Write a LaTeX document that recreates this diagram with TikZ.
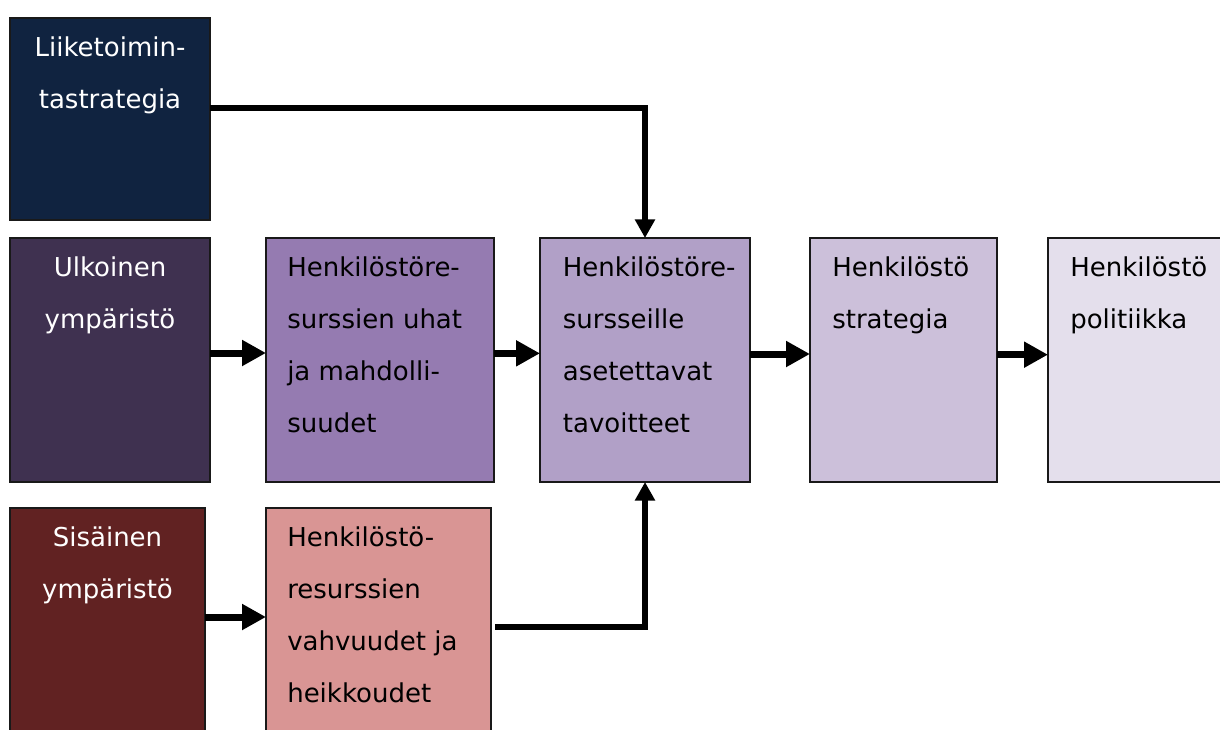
\documentclass[tikz,border=0pt]{standalone}
\usepackage{fontspec}
\setmainfont{DejaVu Sans}
\usetikzlibrary{arrows.meta}
\definecolor{cL}{RGB}{16,35,64}
\definecolor{cU}{RGB}{63,49,80}
\definecolor{cS}{RGB}{97,34,34}
\definecolor{cH}{RGB}{149,123,177}
\definecolor{cV}{RGB}{217,149,148}
\definecolor{cT}{RGB}{177,160,199}
\definecolor{cP}{RGB}{204,192,218}
\definecolor{cQ}{RGB}{228,223,236}
\definecolor{edge}{RGB}{25,25,25}
\newcommand{\firstline}{\rule{0pt}{28.5pt}}
\begin{document}
\begin{tikzpicture}[x=0.75pt,y=-0.75pt,
  box/.style={draw=edge, line width=1.1pt, inner sep=0pt, outer sep=0pt, anchor=north west},
  wtxt/.style={inner sep=0pt, anchor=north, align=center, text=white, font=\fontsize{19.5}{39}\selectfont},
  btxt/.style={inner sep=0pt, anchor=north west, align=left, text=black, font=\fontsize{19.5}{39}\selectfont},
  arr/.style={line width=5.25pt, -{Triangle[length=18pt,width=18.5pt]}},
  elbow/.style={line width=4.5pt, -{Triangle[length=14pt,width=14.5pt]}}]
\useasboundingbox (0,0) rectangle (1220,729);
\begin{scope}
\clip (0,0) rectangle (1220,729);
\node[box, fill=cL, minimum width=150pt, minimum height=151.5pt] (L) at (10,18) {};
\node[box, fill=cU, minimum width=150pt, minimum height=183pt] (U) at (10,238) {};
\node[box, fill=cS, minimum width=146.25pt, minimum height=195pt] (S) at (10,508) {};
\node[box, fill=cH, minimum width=171pt, minimum height=183pt] (H) at (266,238) {};
\node[box, fill=cV, minimum width=168.75pt, minimum height=195pt] (V) at (266,508) {};
\node[box, fill=cT, minimum width=157.5pt, minimum height=183pt] (T) at (540,238) {};
\node[box, fill=cP, minimum width=140.25pt, minimum height=183pt] (P) at (810,238) {};
\node[box, fill=cQ, minimum width=135pt, minimum height=183pt] (Q) at (1048,238) {};
\end{scope}
\node[wtxt] (tL) at (L.north) {\firstline Liiketoimin-\\tastrategia};
\node[wtxt] (tU) at (U.north) {\firstline Ulkoinen\\ympäristö};
\node[wtxt] (tS) at (S.north) {\firstline Sisäinen\\ympäristö};
\node[btxt] (tH) at ([xshift=15.75pt]H.north west) {\firstline Henkilöstöre-\\surssien uhat\\ja mahdolli-\\suudet};
\node[btxt] (tV) at ([xshift=15.75pt]V.north west) {\firstline Henkilöstö-\\resurssien\\vahvuudet ja\\heikkoudet};
\node[btxt] (tT) at ([xshift=17pt]T.north west) {\firstline Henkilöstöre-\\sursseille\\asetettavat\\tavoitteet};
\node[btxt] (tP) at ([xshift=16.5pt]P.north west) {\firstline Henkilöstö\\strategia};
\node[btxt] (tQ) at ([xshift=16.5pt]Q.north west) {\firstline Henkilöstö\\politiikka};
% connectors
\draw[elbow] ([yshift=-67.5pt]L.north east) -| (T.north);
\draw[arr] ([yshift=5.25pt]U.east) -- ([yshift=5.25pt]H.west);
\draw[arr] ([yshift=5pt]H.east) -- ([yshift=5pt]T.west);
\draw[arr] ([yshift=4.5pt]T.east) -- ([yshift=4.5pt]P.west);
\draw[arr] ([yshift=4pt]P.east) -- ([yshift=4pt]Q.west);
\draw[arr] ([yshift=-81.75pt]S.north east) -- ([yshift=-81.75pt]V.north west);
\draw[elbow] ([xshift=3pt,yshift=-89.25pt]V.north east) -| (T.south);
\end{tikzpicture}
\end{document}
